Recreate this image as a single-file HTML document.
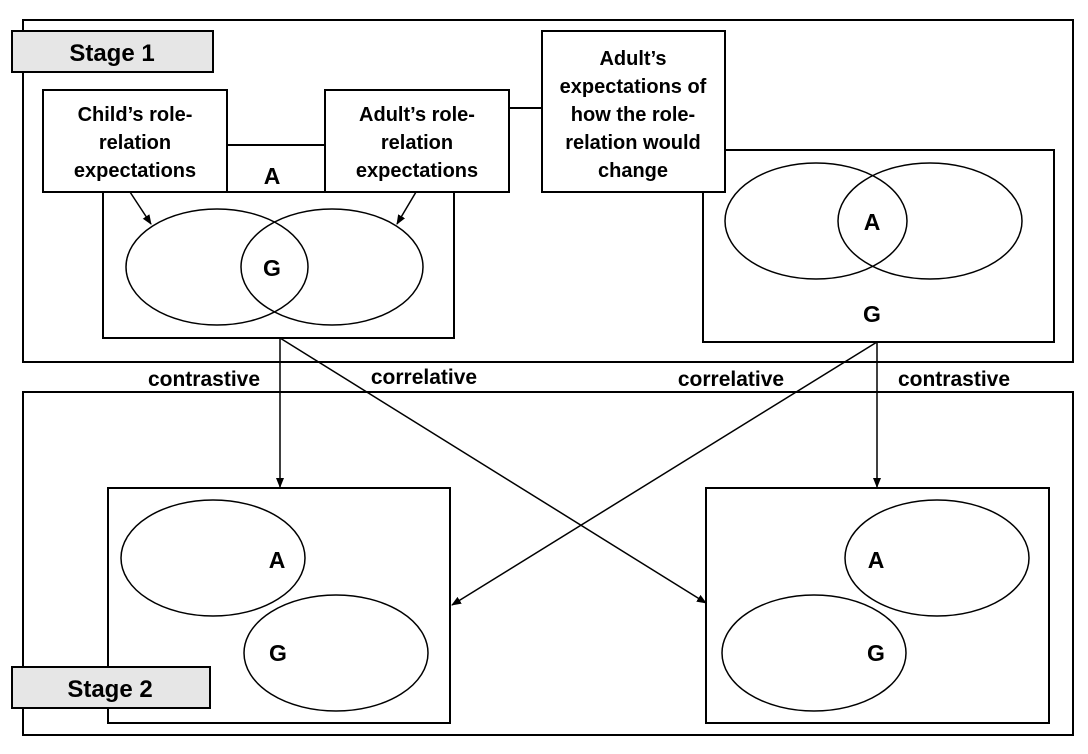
<!DOCTYPE html>
<html><head><meta charset="utf-8"><style>
html,body{margin:0;padding:0;background:#fff;}
svg text{font-family:"Liberation Sans",sans-serif;font-weight:bold;fill:#000;}
</style></head><body>
<svg width="1088" height="749" viewBox="0 0 1088 749" xmlns="http://www.w3.org/2000/svg">
<defs><marker id="ar" markerWidth="10" markerHeight="10" refX="9" refY="5" orient="auto" markerUnits="userSpaceOnUse"><path d="M0,1 L10,5 L0,9 z" fill="#000"/></marker></defs>
<g fill="none" stroke="#000" stroke-width="2">
<rect x="23" y="20" width="1050" height="342"/>
<rect x="23" y="392" width="1050" height="343"/>
<rect x="103" y="192" width="351" height="146"/>
<rect x="703" y="150" width="351" height="192"/>
<rect x="108" y="488" width="342" height="235"/>
<rect x="706" y="488" width="343" height="235"/>
<line x1="227" y1="145" x2="325" y2="145"/>
<line x1="509" y1="108" x2="542" y2="108"/>
</g>
<g fill="none" stroke="#000" stroke-width="1.5">
<ellipse cx="217" cy="267" rx="91" ry="58"/>
<ellipse cx="332" cy="267" rx="91" ry="58"/>
<ellipse cx="816" cy="221" rx="91" ry="58"/>
<ellipse cx="930" cy="221" rx="92" ry="58"/>
<ellipse cx="213" cy="558" rx="92" ry="58"/>
<ellipse cx="336" cy="653" rx="92" ry="58"/>
<ellipse cx="937" cy="558" rx="92" ry="58"/>
<ellipse cx="814" cy="653" rx="92" ry="58"/>
<line x1="130" y1="192" x2="151" y2="224" marker-end="url(#ar)"/>
<line x1="416" y1="192" x2="397" y2="224" marker-end="url(#ar)"/>
<line x1="280" y1="338" x2="280" y2="487" marker-end="url(#ar)"/>
<line x1="280" y1="338" x2="706" y2="603" marker-end="url(#ar)"/>
<line x1="877" y1="342" x2="452" y2="605" marker-end="url(#ar)"/>
<line x1="877" y1="342" x2="877" y2="487" marker-end="url(#ar)"/>
</g>
<g fill="#fff" stroke="#000" stroke-width="2">
<rect x="43" y="90" width="184" height="102"/>
<rect x="325" y="90" width="184" height="102"/>
<rect x="542" y="31" width="183" height="161"/>
</g>
<rect x="12" y="31" width="201" height="41" fill="#e6e6e6" stroke="#000" stroke-width="2"/>
<rect x="12" y="667" width="198" height="41" fill="#e6e6e6" stroke="#000" stroke-width="2"/>
<g font-size="24" text-anchor="middle">
<text x="112" y="61">Stage 1</text>
<text x="110" y="697">Stage 2</text>
</g>
<g font-size="20" text-anchor="middle">
<text x="135" y="121">Child’s role-</text>
<text x="135" y="149">relation</text>
<text x="135" y="177">expectations</text>
<text x="417" y="121">Adult’s role-</text>
<text x="417" y="149">relation</text>
<text x="417" y="177">expectations</text>
<text x="633" y="65">Adult’s</text>
<text x="633" y="93">expectations of</text>
<text x="633" y="121">how the role-</text>
<text x="633" y="149">relation would</text>
<text x="633" y="177">change</text>
</g>
<g font-size="21" text-anchor="middle">
<text x="204" y="386">contrastive</text>
<text x="424" y="384">correlative</text>
<text x="731" y="386">correlative</text>
<text x="954" y="386">contrastive</text>
</g>
<g font-size="23" text-anchor="middle">
<text x="272" y="184">A</text>
<text x="272" y="276">G</text>
<text x="872" y="230">A</text>
<text x="872" y="322">G</text>
<text x="277" y="568">A</text>
<text x="278" y="661">G</text>
<text x="876" y="568">A</text>
<text x="876" y="661">G</text>
</g>
</svg>
</body></html>
